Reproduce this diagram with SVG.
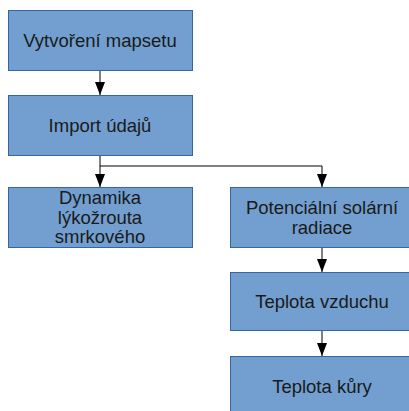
<svg xmlns="http://www.w3.org/2000/svg" width="409" height="411" viewBox="0 0 409 411">
<style>
.box{fill:#729fcf;stroke:#3465a4;stroke-width:1}
.t{font-family:"Liberation Sans",Arial,sans-serif;font-size:18.5px;fill:#1a1a1a;text-anchor:middle}
.c{fill:none;stroke:#000;stroke-width:1}
</style>
<defs>
<marker id="a" markerWidth="14" markerHeight="10" refX="13" refY="5" orient="auto" markerUnits="userSpaceOnUse" viewBox="0 0 14 10">
<path d="M0,0 L13,5 L0,10 Z" fill="#000"/>
</marker>
</defs>
<g id="connectors">
<path class="c" d="M100,70 V95" marker-end="url(#a)"/>
<path class="c" d="M100,155 V187" marker-end="url(#a)"/>
<path class="c" d="M100,166 H322 V187" marker-end="url(#a)"/>
<path class="c" d="M322,247 V272" marker-end="url(#a)"/>
<path class="c" d="M322,330 V356" marker-end="url(#a)"/>
</g>
<g id="n1"><rect class="box" x="8.5" y="10.5" width="184" height="60"/><text class="t" x="100" y="47">Vytvoření mapsetu</text></g>
<g id="n2"><rect class="box" x="8.5" y="95.5" width="184" height="60"/><text class="t" x="100" y="132">Import údajů</text></g>
<g id="n3"><rect class="box" x="8.5" y="187.5" width="184" height="60"/><text class="t" x="100" y="204">Dynamika</text><text class="t" x="100" y="223.5">lýkožrouta</text><text class="t" x="100" y="243">smrkového</text></g>
<g id="n4"><rect class="box" x="230.5" y="187.5" width="184" height="60"/><text class="t" x="322" y="214">Potenciální solární</text><text class="t" x="322" y="234">radiace</text></g>
<g id="n5"><rect class="box" x="230.5" y="272.5" width="184" height="58"/><text class="t" x="322" y="308">Teplota vzduchu</text></g>
<g id="n6"><rect class="box" x="230.5" y="356.5" width="184" height="60"/><text class="t" x="322" y="393">Teplota kůry</text></g>
</svg>
